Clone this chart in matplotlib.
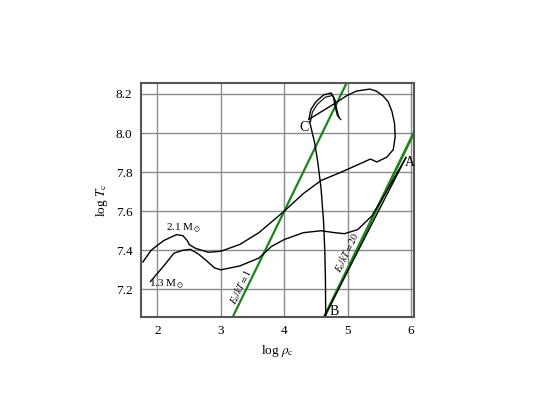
import numpy as np
import matplotlib.pyplot as plt

plt.rcParams['font.family'] = ['Liberation Serif', 'DejaVu Serif']
plt.rcParams['mathtext.fontset'] = 'stix'

# evolutionary tracks (log rho_c, log T_c)
rho_21 = [1.77, 1.9, 2.1, 2.3, 2.4, 2.47, 2.5, 2.6, 2.8, 3.0, 3.3, 3.6, 3.8, 4.0,
          4.3, 4.58, 4.9, 5.21, 5.36, 5.46, 5.62, 5.72, 5.75, 5.74, 5.70, 5.64,
          5.56, 5.45, 5.35, 5.14, 4.98, 4.84, 4.39]
T_21 = [7.34, 7.40, 7.45, 7.48, 7.475, 7.45, 7.43, 7.41, 7.39, 7.395, 7.43, 7.49,
        7.545, 7.60, 7.69, 7.757, 7.80, 7.845, 7.867, 7.852, 7.877, 7.915, 7.98,
        8.05, 8.11, 8.16, 8.19, 8.215, 8.225, 8.215, 8.19, 8.16, 8.07]

rho_13 = [1.89, 2.1, 2.26, 2.4, 2.52, 2.65, 2.78, 2.9, 3.0, 3.3, 3.6, 3.8, 4.0,
          4.3, 4.58, 4.8, 4.95, 5.16, 5.38, 5.54, 5.7, 5.92]
T_13 = [7.24, 7.32, 7.385, 7.40, 7.405, 7.38, 7.345, 7.31, 7.30, 7.32, 7.36, 7.42,
        7.455, 7.49, 7.50, 7.49, 7.485, 7.506, 7.575, 7.66, 7.75, 7.875]

# helium flash loop near C
rho_loop = [4.39, 4.42, 4.50, 4.62, 4.74, 4.78, 4.80, 4.84, 4.87]
T_loop = [8.07, 8.12, 8.16, 8.195, 8.205, 8.18, 8.14, 8.09, 8.08]

# C -> B track
rho_cb = [4.40, 4.48, 4.53, 4.58, 4.62, 4.64, 4.65, 4.655]
T_cb = [8.06, 7.95, 7.85, 7.72, 7.55, 7.40, 7.25, 7.058]

# straight line B -> A
rho_ba = [4.63, 5.92]
T_ba = [7.058, 7.875]

# E0/kT lines: log T = T0 + (2/3)(log rho - rho0)
rho_line = np.array([1.5, 6.5])
T_e1 = 7.6 + 2 / 3 * (rho_line - 4.0)
T_e20 = 7.058 + 2 / 3 * (rho_line - 4.63)

fig = plt.figure(figsize=(5.4, 4.05), dpi=100)
ax = fig.add_axes([0.261, 0.217, 0.506, 0.578])

green = '#1d841d'
ax.plot(rho_line, T_e1, color=green, lw=1.6)
ax.plot(rho_line, T_e20, color=green, lw=2.0)
ax.plot(rho_21, T_21, color='black', lw=1.0)
ax.plot(rho_13, T_13, color='black', lw=1.0)
ax.plot(rho_loop, T_loop, color='black', lw=1.0)
ax.plot(np.array(rho_loop) + 0.025, np.array(T_loop) - 0.012, color='black', lw=0.8)
ax.plot(rho_cb, T_cb, color='black', lw=1.0)
ax.plot(rho_ba, T_ba, color='black', lw=1.0)

ax.set_xlim(1.74, 6.05)
ax.set_ylim(7.058, 8.256)
ax.set_xticks([2, 3, 4, 5, 6])
ax.set_yticks([7.2, 7.4, 7.6, 7.8, 8.0, 8.2])
ax.set_yticklabels(['7.2', '7.4', '7.6', '7.8', '8.0', '8.2'])
ax.grid(True, color='#8a8a8a', lw=1.0)
ax.set_axisbelow(True)
ax.tick_params(length=0, labelsize=9.5, pad=6)
for s in ax.spines.values():
    s.set_color('#555555')
    s.set_linewidth(1.5)

ax.set_xlabel(r'log $\rho_{\rm c}$', fontsize=9.5)
ax.set_ylabel(r'log $T_{\rm c}$', fontsize=9.5)

ax.text(2.14, 7.51, r'2.1 M$_\odot$', fontsize=8, ha='left', va='center')
ax.text(1.86, 7.226, r'1.3 M$_\odot$', fontsize=8, ha='left', va='center')
ax.text(4.31, 8.03, 'C', fontsize=10, ha='center', va='center')
ax.text(5.98, 7.85, 'A', fontsize=10, ha='center', va='center')
ax.text(4.78, 7.085, 'B', fontsize=10, ha='center', va='center')
ax.text(3.32, 7.21, r'$E_0/kT = 1$', fontsize=7, rotation=64,
        ha='center', va='center')
ax.text(4.99, 7.39, r'$E_0/kT = 20$', fontsize=7, rotation=64,
        ha='center', va='center')

plt.savefig('out.png')
